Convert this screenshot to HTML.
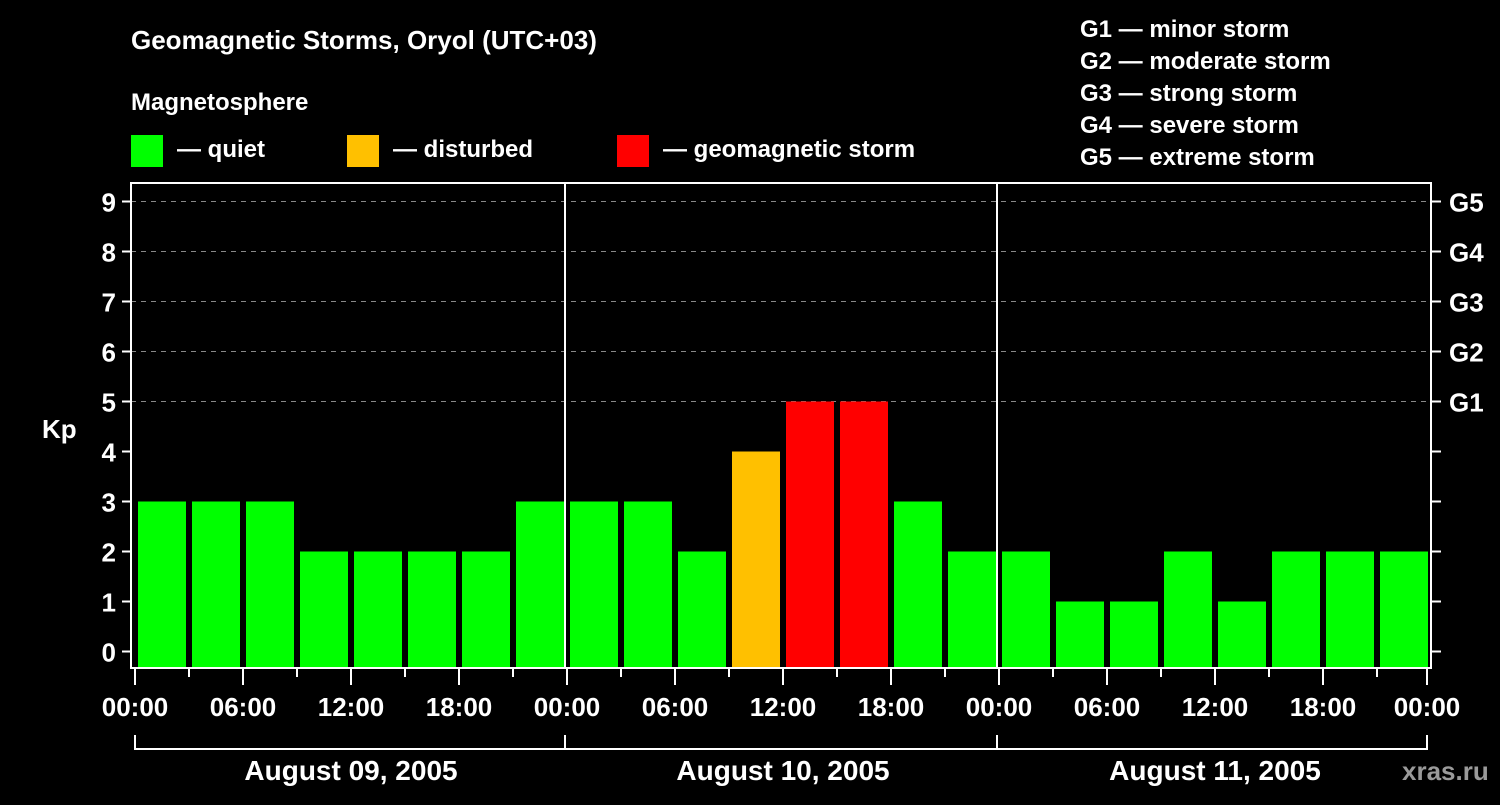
<!DOCTYPE html>
<html><head><meta charset="utf-8"><style>
html,body{margin:0;padding:0;background:#000;}
svg text{font-family:"Liberation Sans",Arial,sans-serif;font-weight:bold;fill:#fff;}
</style></head><body>
<svg id="chart" width="1500" height="800" xmlns="http://www.w3.org/2000/svg">
<rect width="1500" height="800" fill="#000"/>
<text x="131" y="49" font-size="26">Geomagnetic Storms, Oryol (UTC+03)</text>
<text x="131" y="110" font-size="24">Magnetosphere</text>
<g><rect x="131" y="135" width="32" height="32" fill="#00ff00"/><text x="177" y="157" font-size="24">— quiet</text></g>
<g><rect x="347" y="135" width="32" height="32" fill="#ffc000"/><text x="393" y="157" font-size="24">— disturbed</text></g>
<g><rect x="617" y="135" width="32" height="32" fill="#ff0000"/><text x="663" y="157" font-size="24">— geomagnetic storm</text></g>
<g font-size="24">
<text x="1080" y="37">G1 — minor storm</text>
<text x="1080" y="69">G2 — moderate storm</text>
<text x="1080" y="101">G3 — strong storm</text>
<text x="1080" y="133">G4 — severe storm</text>
<text x="1080" y="165">G5 — extreme storm</text>
</g>
<text x="42" y="438" font-size="26">Kp</text>
<g id="grid"></g><g id="bars"></g><g id="axes"></g>
<text x="1402" y="780" font-size="26" fill="#9a9a9a" style="fill:#9a9a9a">xras.ru</text>
</svg>
<script>
const kpValues=[3,3,3,2,2,2,2,3, 3,3,2,4,5,5,3,2, 2,1,1,2,1,2,2,2];
const dayLabels=["August 09, 2005","August 10, 2005","August 11, 2005"];
const hourLabels=["00:00","06:00","12:00","18:00"];
const kpTicks=[0,1,2,3,4,5,6,7,8,9];
const gLabels=["","","","","","G1","G2","G3","G4","G5"];
const NS="http://www.w3.org/2000/svg";
const X0=135,SLOT=54,Y0=651.5,UNIT=50,TOP=183,BOT=668,LEFT=131,RIGHT=1431;
const xs=i=>X0+i*SLOT, ys=v=>Y0-v*UNIT;
function mk(tag,attrs,parent){const e=document.createElementNS(NS,tag);for(const k in attrs)e.setAttribute(k,attrs[k]);parent.appendChild(e);return e;}
const grid=document.getElementById('grid'),bars=document.getElementById('bars'),axes=document.getElementById('axes');
kpTicks.forEach(v=>{
 if(v>=5){const l=mk('line',{x1:LEFT,x2:RIGHT,y1:ys(v),y2:ys(v),stroke:'#888','stroke-dasharray':'5,5','stroke-width':1},grid);
 
 }
 const t=mk('line',{x1:122,x2:LEFT,y1:ys(v),y2:ys(v),stroke:'#fff','stroke-width':2},axes);
 
 
 const t2=mk('line',{x1:RIGHT,x2:1441,y1:ys(v),y2:ys(v),stroke:'#fff','stroke-width':2},axes);
 
 
 const tx=mk('text',{x:116,y:ys(v)+10,'font-size':26,'text-anchor':'end'},axes);tx.textContent=v;
 
 
 if(gLabels[v]){const g=mk('text',{x:1449,y:ys(v)+10,'font-size':26},axes);g.textContent=gLabels[v];
 
 }
});
kpValues.forEach((v,i)=>{
 const c=v>=5?'#ff0000':(v>=4?'#ffc000':'#00ff00');
 const r=mk('rect',{x:xs(i)+3,y:ys(v),width:48,height:BOT-ys(v),fill:c},bars);
 
 
});
const box=mk('rect',{x:LEFT,y:TOP,width:RIGHT-LEFT,height:BOT-TOP,fill:'none',stroke:'#fff','stroke-width':2},axes);


for(let d=1;d<dayLabels.length;d++){const l=mk('line',{x1:xs(d*8)-2,x2:xs(d*8)-2,y1:TOP,y2:BOT,stroke:'#fff','stroke-width':2},axes);
 
 }
for(let i=0;i<=24;i++){
 const major=i%2===0;
 const x=xs(i)-(i===24?4:0);
 const t=mk('line',{x1:x,x2:x,y1:BOT,y2:major?685:677,stroke:'#fff','stroke-width':2},axes);
 
 
 if(major){const tx=mk('text',{x:x,y:716,'font-size':26,'text-anchor':'middle'},axes);tx.textContent=hourLabels[(i/2)%4];
 
 }
}
const br=mk('polyline',{points:`${X0},735 ${X0},749 ${xs(24)-4},749 ${xs(24)-4},735`,fill:'none',stroke:'#fff','stroke-width':2},axes);


dayLabels.forEach((d,k)=>{
 const l=mk('line',{x1:xs(k*8)-(k?2:0),x2:xs(k*8)-(k?2:0),y1:735,y2:749,stroke:'#fff','stroke-width':2},axes);
 
 
 const t=mk('text',{x:xs(k*8+4),y:780,'font-size':28,'text-anchor':'middle'},axes);t.textContent=d;
 
 
});
</script>
</body></html>
